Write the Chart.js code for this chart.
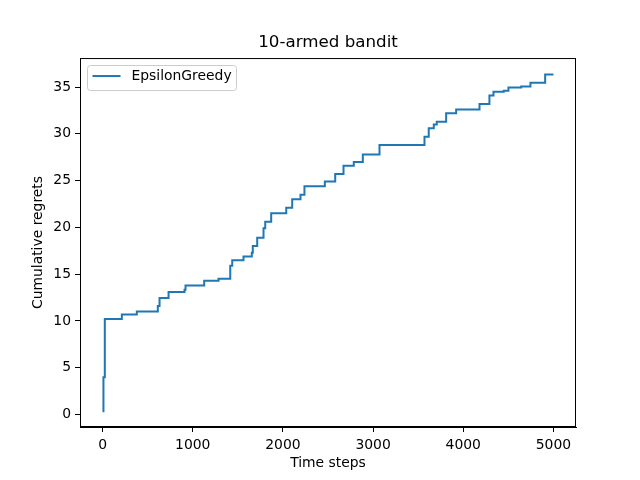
<!DOCTYPE html>
<html>
<head>
<meta charset="utf-8">
<script src="https://cdn.jsdelivr.net/npm/chart.js@4"></script>
<style>
  html, body { margin: 0; padding: 0; background: #fff; }
  canvas { display: block; }
</style>
</head>
<body>
<canvas id="banditChart" width="640" height="480"></canvas>
<script>
// Data (time step where regret steps up, new cumulative regret)
const seriesLabel = 'EpsilonGreedy';
const timeSteps = [0, 10, 25, 214, 380, 613, 632, 732, 909, 920, 1127, 1286, 1416, 1438, 1563,
    1655, 1666, 1715, 1785, 1804, 1870, 2037, 2103, 2195, 2239, 2465, 2580, 2672, 2786, 2886,
    3071, 3570, 3617, 3673, 3706, 3810, 3921, 4180, 4290, 4335, 4449, 4501, 4642, 4745, 4908, 5000];
const regrets = [0.35, 4.0, 10.2, 10.7, 11.0, 11.6, 12.45, 13.1, 13.35, 13.8, 14.3, 14.5, 15.9, 16.5, 16.9,
    17.3, 18.0, 18.9, 19.9, 20.6, 21.5, 22.1, 23.0, 23.5, 24.4, 24.9, 25.7, 26.6, 27.0, 27.8,
    28.8, 29.7, 30.6, 31.0, 31.3, 32.2, 32.6, 33.2, 34.1, 34.5, 34.6, 34.95, 35.05, 35.45, 36.35, 36.35];
const xTicks = [0, 1000, 2000, 3000, 4000, 5000];
const yTicks = [0, 5, 10, 15, 20, 25, 30, 35];

const FONT = 'DejaVu Sans';
const LINE_COLOR = '#1f77b4';

// Frame around the plot area + legend box in the upper left (matplotlib style)
const framePlugin = {
    id: 'frame',
    afterDraw(chart) {
        const { ctx, chartArea: a } = chart;
        ctx.save();
        ctx.strokeStyle = '#000';
        ctx.lineWidth = 1;
        ctx.strokeRect(a.left + 0.5, a.top + 0.5, a.right - a.left - 1, a.bottom - a.top - 1);

        // legend
        const bx = a.left + 7.5, by = a.top + 7.5, bw = 149, bh = 25;
        ctx.fillStyle = 'rgba(255,255,255,0.8)';
        ctx.strokeStyle = '#cccccc';
        ctx.beginPath();
        ctx.roundRect(bx, by, bw, bh, 3);
        ctx.fill();
        ctx.stroke();
        ctx.strokeStyle = LINE_COLOR;
        ctx.lineWidth = 2;
        ctx.beginPath();
        ctx.moveTo(bx + 5, by + 10.5);
        ctx.lineTo(bx + 33, by + 10.5);
        ctx.stroke();
        ctx.fillStyle = '#000';
        ctx.font = '13.9px "' + FONT + '"';
        ctx.textBaseline = 'middle';
        ctx.textAlign = 'left';
        ctx.fillText(seriesLabel, bx + 44, by + 11);
        ctx.restore();
    }
};

new Chart(document.getElementById('banditChart'), {
    type: 'line',
    data: {
        datasets: [{
            label: seriesLabel,
            data: timeSteps.map((t, i) => ({ x: t, y: regrets[i] })),
            borderColor: LINE_COLOR,
            borderWidth: 2,
            pointRadius: 0,
            stepped: true,
            fill: false
        }]
    },
    options: {
        responsive: false,
        animation: false,
        layout: { padding: { left: 0, right: 64, top: 0, bottom: 0 } },
        plugins: {
            legend: { display: false },
            tooltip: { enabled: false },
            title: {
                display: true,
                text: '10-armed bandit',
                fullSize: false,
                color: '#000',
                font: { family: FONT, size: 16.7, weight: 'normal' },
                padding: { top: 33, bottom: 5 }
            }
        },
        scales: {
            x: {
                type: 'linear',
                min: -250,
                max: 5250,
                afterBuildTicks: s => { s.ticks = xTicks.map(v => ({ value: v })); },
                afterFit: s => { s.height = 53; },
                grid: { display: true, drawOnChartArea: false, drawTicks: true, tickLength: 5, color: '#000' },
                border: { display: true, color: '#000', width: 1 },
                ticks: { color: '#000', font: { family: FONT, size: 13.9 }, padding: 5, maxRotation: 0,
                    callback: v => String(v) },
                title: { display: true, text: 'Time steps', color: '#000', font: { family: FONT, size: 13.9 }, padding: { top: 0, bottom: 8 } }
            },
            y: {
                type: 'linear',
                min: -1.33,
                max: 38.1,
                afterBuildTicks: s => { s.ticks = yTicks.map(v => ({ value: v })); },
                afterFit: s => { s.width = 80; },
                grid: { display: true, drawOnChartArea: false, drawTicks: true, tickLength: 5, color: '#000' },
                border: { display: true, color: '#000', width: 1 },
                ticks: { color: '#000', font: { family: FONT, size: 13.9 }, padding: 4,
                    callback: v => String(v) },
                title: { display: true, text: 'Cumulative regrets', color: '#000', font: { family: FONT, size: 13.9 }, padding: { top: 30, bottom: 0 } }
            }
        }
    },
    plugins: [framePlugin]
});
</script>
</body>
</html>
